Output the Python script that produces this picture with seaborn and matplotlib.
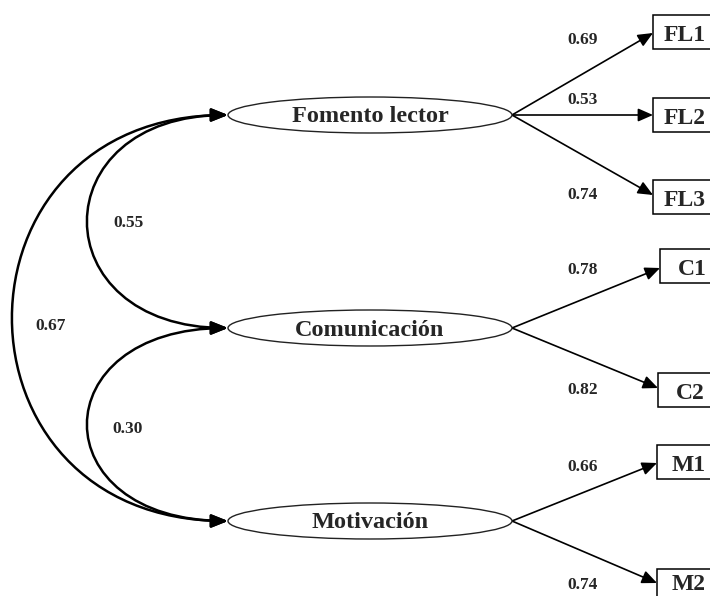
"""
Path diagram (CFA) of three latent factors with their indicators,
standardised loadings and factor correlations.
"""

import matplotlib
matplotlib.use("Agg")
import matplotlib.pyplot as plt
import seaborn as sns
from matplotlib.patches import Ellipse, Rectangle, FancyArrowPatch
from matplotlib.path import Path

# ==============================================================================
# DATA
# ==============================================================================

factors = ["Fomento lector", "Comunicación", "Motivación"]
indicators = ["FL1", "FL2", "FL3", "C1", "C2", "M1", "M2"]
indicator_factor = [0, 0, 0, 1, 1, 2, 2]
loadings = ["0.69", "0.53", "0.74", "0.78", "0.82", "0.66", "0.74"]
corr_pairs = [(0, 1), (1, 2), (0, 2)]
corr_values = ["0.55", "0.30", "0.67"]

# ==============================================================================
# LAYOUT (pixel units, y downwards)
# ==============================================================================

W, H = 710, 596
factor_x, factor_y = 370, [115, 328, 521]
ell_w, ell_h = 284, 36
box_x = [653, 653, 653, 660, 658, 657, 657]
box_top = [15, 98, 180, 249, 373, 445, 569]
box_lbl_base = [41, 124, 206, 275, 399, 471, 590]   # text baselines
arrow_y = [33, 115, 195, 268, 388, 463, 583]
box_w, box_h = 70, 34
load_lbl_y = [40, 100, 195, 270, 390, 467, 585]
load_lbl_x = 583
corr_reach = [41, 41, -59]          # bezier control x for each correlation arc
corr_lbl_xy = [(128, 223), (128, 429), (51, 326)]

sns.set_style("white")
plt.rcParams["font.family"] = ["Liberation Serif", "DejaVu Serif"]

fig = plt.figure(figsize=(W / 100, H / 100), dpi=100)
ax = fig.add_axes([0, 0, 1, 1])
ax.set_xlim(0, W)
ax.set_ylim(H, 0)
ax.axis("off")

left_x = factor_x - ell_w / 2
right_x = factor_x + ell_w / 2

# latent factors
for name, fy in zip(factors, factor_y):
    ax.add_patch(Ellipse((factor_x, fy), ell_w, ell_h, facecolor="white",
                         edgecolor="#222222", lw=1.0, zorder=2))
    ax.text(factor_x, fy + 2, name, ha="center", va="center", fontsize=17.5,
            fontweight="bold", zorder=3)

# indicators + loading arrows
for i, (name, f) in enumerate(zip(indicators, indicator_factor)):
    bx = box_x[i]
    ax.add_patch(Rectangle((bx, box_top[i]), box_w, box_h, facecolor="white",
                           edgecolor="black", lw=1.1, zorder=2))
    ax.text(bx + 32, box_lbl_base[i], name, ha="center", va="baseline",
            fontsize=17, fontweight="bold", zorder=3)
    ax.add_patch(FancyArrowPatch((right_x, factor_y[f]), (bx, arrow_y[i]),
                                 arrowstyle="-|>,head_length=0.5,head_width=0.22",
                                 mutation_scale=18, shrinkA=0, shrinkB=0,
                                 color="black", lw=1.2, zorder=1))
    ax.text(load_lbl_x, load_lbl_y[i], loadings[i], ha="center", va="center",
            fontsize=12.5, fontweight="bold")

# factor correlations (double-headed arcs)
for (a, b), val, cx, (lx, ly) in zip(corr_pairs, corr_values, corr_reach, corr_lbl_xy):
    ya, yb = factor_y[a], factor_y[b]
    path = Path([(left_x, ya), (cx, ya), (cx, yb), (left_x, yb)],
                [Path.MOVETO, Path.CURVE4, Path.CURVE4, Path.CURVE4])
    ax.add_patch(FancyArrowPatch(path=path,
                                 arrowstyle="<|-|>,head_length=0.55,head_width=0.22",
                                 mutation_scale=18, shrinkA=0, shrinkB=0,
                                 color="black", lw=1.8, zorder=1))
    ax.text(lx, ly, val, ha="center", va="center", fontsize=12.5, fontweight="bold")

fig.savefig("out.png", dpi=100)
